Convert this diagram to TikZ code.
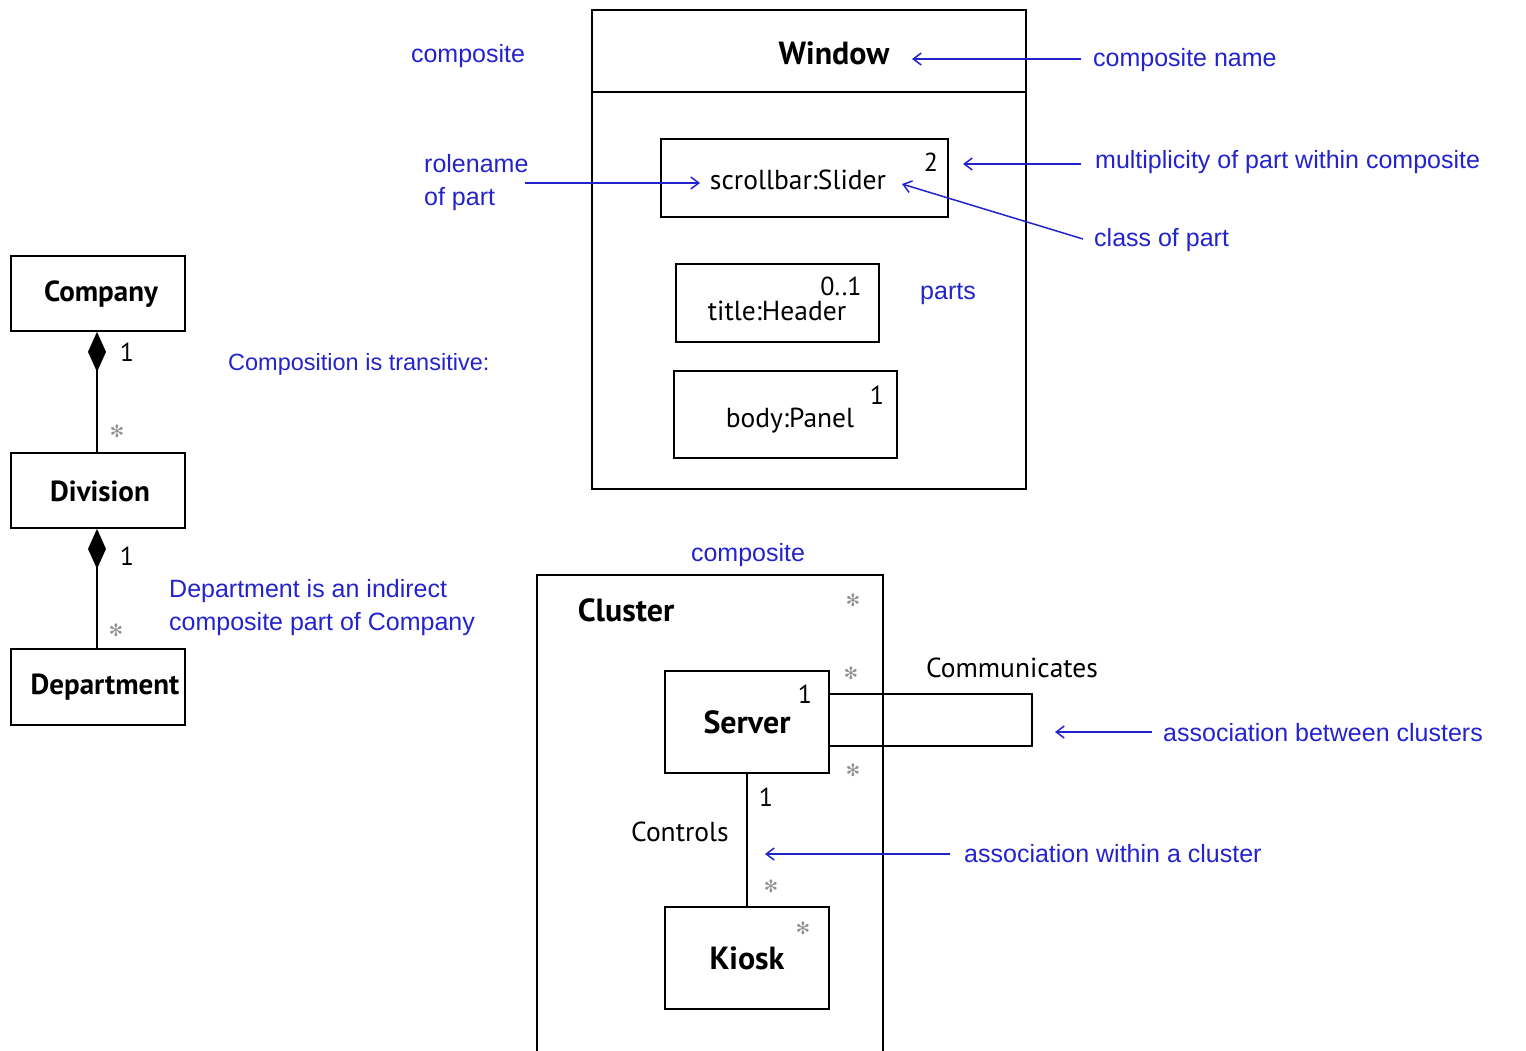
\documentclass[tikz,border=0pt]{standalone}
\usepackage{fontspec}
\setmainfont{PT Sans}
\newfontfamily\notefont{Liberation Sans}
\newfontfamily\symfont{DejaVu Sans}
\usetikzlibrary{arrows.meta,calc}
\definecolor{noteblue}{RGB}{35,35,205}
\definecolor{stargray}{RGB}{145,145,145}
\newcommand{\fsz}[1]{\fontsize{#1}{#1}\selectfont}

\begin{document}
\begin{tikzpicture}[x=1pt,y=-1pt,
  box/.style={draw,line width=1.8pt,inner sep=0pt},
  classname/.style={font=\fsz{29}\bfseries},
  bigname/.style={font=\fsz{32}\bfseries},
  plain/.style={font=\fsz{27.5}},
  note/.style={font=\notefont\fontsize{25}{33}\selectfont,text=noteblue,inner sep=0pt,align=left},
  mult/.style={font=\fsz{26},inner sep=0pt},
  star/.style={font=\symfont\fsz{17},text=stargray,inner sep=0pt},
  pointer/.style={draw=noteblue,line width=1.5pt,-{Straight Barb[length=8pt,width=12pt]}},
  link/.style={draw,line width=1.8pt}]
\useasboundingbox (0,0) rectangle (1526,1050);

% ---------- Company / Division / Department ----------
\node[box,minimum width=174,minimum height=75] (company) at (98,293.5) {};
\node[classname] (companytext) at (101,294) {Company};
\node[box,minimum width=174,minimum height=75] (division) at (98,490.5) {};
\node[classname] (divisiontext) at (100,491) {Division};
\node[box,minimum width=174,minimum height=76] (department) at (98,687) {};
\node[classname] (departmenttext) at (105,687) {Department};

\draw[link,{Diamond[length=40pt,width=18pt]}-] (company.south -| 97,0) -- (division.north -| 97,0);
\draw[link,{Diamond[length=40pt,width=18pt]}-] (division.south -| 97,0) -- (department.north -| 97,0);
\node[mult] (m1) at (127,352) {1};
\node[star] (s1) at (117,431) {✻};
\node[mult] (m2) at (127,556) {1};
\node[star] (s2) at (116,630) {✻};

\node[note,anchor=west,font=\notefont\fsz{23.5}] (transitive) at (228,364) {Composition is transitive:};
\node[note,anchor=west] (indirect) at (169,608) {Department is an indirect\\composite part of Company};

% ---------- Window composite ----------
\node[box,minimum width=434,minimum height=82] (winhead) at (809,51) {};
\node[bigname] (wintitle) at (834,53) {Window};
\node[box,minimum width=434,minimum height=397] (winbody) at (809,290.5) {};

\node[box,minimum width=287,minimum height=78] (slider) at (804.5,178) {};
\node[plain] (slidertext) at (798,180) {scrollbar:Slider};
\node[mult] (m3) at (931,162) {2};

\node[box,minimum width=203,minimum height=78] (header) at (777.5,303) {};
\node[plain] (headertext) at (777,311) {title:Header};
\node[mult] (m4) at (841,286) {0..1};

\node[box,minimum width=223,minimum height=87] (panel) at (785.5,414.5) {};
\node[plain] (paneltext) at (790,421) {body:Panel};
\node[mult] (m5) at (877,395) {1};

\node[note] (parts) at (948,294) {parts};
\node[note] (composite1) at (468,56) {composite};

\node[note,anchor=west] (cname) at (1093,60) {composite name};
\coordinate (cnameTip) at (912,59);
\draw[pointer] (cname.west) ++(-12,-1) -- (cnameTip);

\node[note,anchor=west] (multnote) at (1095,162) {multiplicity of part within composite};
\coordinate (multTip) at (963,164);
\draw[pointer] (multnote.west) ++(-14,2) -- (multTip);

\node[note,anchor=west] (classnote) at (1094,240) {class of part};
\coordinate (classTip) at (902,184);
\draw[pointer] (classnote.west) ++(-11,-1) -- (classTip);

\node[note,anchor=west] (rolenote) at (424,183) {rolename\\of part};
\coordinate (roleStart) at (525,183);
\coordinate (roleTip) at (700,183);
\draw[pointer] (roleStart) -- (roleTip);

% ---------- Cluster composite ----------
\node[note] (composite2) at (748,555) {composite};
\draw[line width=1.8pt] (537,1052) -- (537,575) -- (883,575) -- (883,1052);
\node[bigname] (clustertext) at (626,610) {Cluster};
\node[star] (s3) at (853,600) {✻};

\node[box,minimum width=164,minimum height=102] (server) at (747,722) {};
\node[bigname] (servertext) at (747,722) {Server};
\node[mult] (m6) at (805,694) {1};
\node[star] (s4) at (851,673) {✻};
\node[star] (s5) at (853,770) {✻};

\coordinate (loopR) at (1032,720);
\draw[link] ([yshift=28pt]server.east) -- ([yshift=28pt]server.east -| loopR)
  -- ([yshift=-24pt]server.east -| loopR) -- ([yshift=-24pt]server.east);
\node[plain] (commtext) at (1012,668) {Communicates};

\node[box,minimum width=164,minimum height=102] (kiosk) at (747,958) {};
\node[bigname] (kiosktext) at (747,958) {Kiosk};
\node[star] (s6) at (803,928) {✻};

\draw[link] (server) -- (kiosk);
\node[mult] (m7) at (766,797) {1};
\node[plain] (controls) at (680,832) {Controls};
\node[star] (s7) at (771,886) {✻};

\node[note,anchor=west] (between) at (1163,733) {association between clusters};
\coordinate (betweenTip) at (1055,732);
\draw[pointer] (between.west) ++(-11,-1) -- (betweenTip);

\node[note,anchor=west] (within) at (964,854) {association within a cluster};
\coordinate (withinTip) at (765,854);
\draw[pointer] (within.west) ++(-14,0) -- (withinTip);
\end{tikzpicture}
\end{document}
